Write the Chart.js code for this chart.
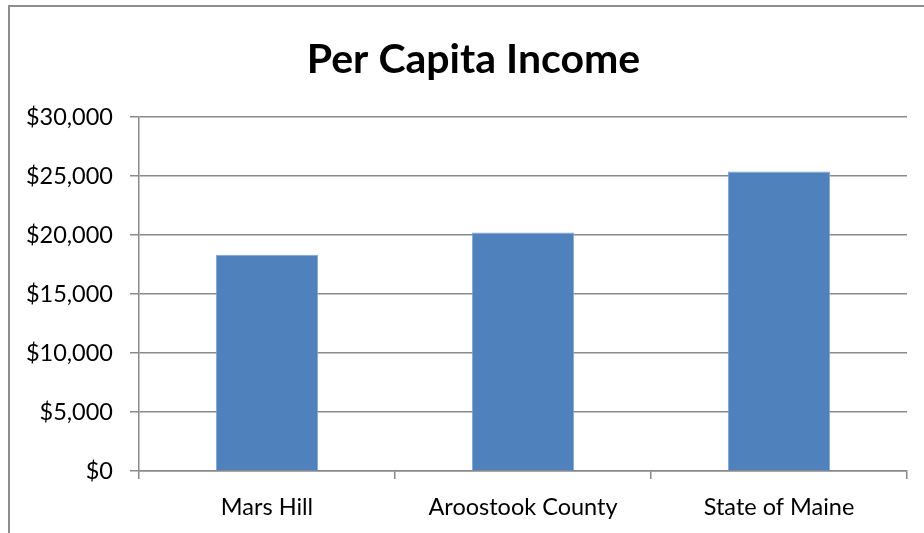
<!DOCTYPE html>
<html>
<head>
<meta charset="utf-8">
<script src="https://cdn.jsdelivr.net/npm/chart.js@4/dist/chart.umd.min.js"></script>
<style>
  html, body { margin: 0; padding: 0; background: #ffffff; overflow: hidden; }
  #wrap { position: relative; width: 924px; height: 533px; overflow: hidden; }
  #frame {
    position: absolute; left: 8px; top: 5px; width: 1000px; height: 600px;
    border: 2px solid #8e8e8e; box-sizing: border-box;
  }
  #c { position: absolute; left: 0; top: 0; }
</style>
</head>
<body>
<div id="wrap">
  <div id="frame"></div>
  <canvas id="c" width="924" height="533"></canvas>
</div>
<script>
// Per capita income by area
const categories = ["Mars Hill", "Aroostook County", "State of Maine"];
const incomeValues = [18330, 20230, 25400];
const yTicks = [0, 5000, 10000, 15000, 20000, 25000, 30000];

const axisGray = "#8a8a8a";
const fontFamily = "Lato, 'Open Sans', sans-serif";

// Centre the title on the framed chart box rather than the canvas
const titleCentering = {
  id: "titleCentering",
  afterLayout(chart) {
    if (chart.titleBlock) {
      chart.titleBlock.left = 40;
    }
  }
};

new Chart(document.getElementById("c"), {
  type: "bar",
  data: {
    labels: categories,
    datasets: [{
      label: "Per Capita Income",
      data: incomeValues,
      backgroundColor: "#4f81bd",
      borderColor: "#7fa3d1",
      borderWidth: 1,
      borderSkipped: "bottom",
      categoryPercentage: 1.0,
      barPercentage: 0.4
    }]
  },
  plugins: [titleCentering],
  options: {
    responsive: false,
    animation: false,
    events: [],
    layout: { padding: { left: 0, right: 17, top: 0, bottom: 0 } },
    plugins: {
      legend: { display: false },
      tooltip: { enabled: false },
      title: {
        display: true,
        text: "Per Capita Income",
        color: "#000000",
        font: { family: fontFamily, size: 41, weight: "bold" },
        padding: { top: 35, bottom: 33 }
      }
    },
    scales: {
      x: {
        afterFit: (scale) => { scale.height = 62; },
        grid: {
          offset: true,
          drawOnChartArea: false,
          drawTicks: true,
          tickLength: 8,
          color: axisGray,
          lineWidth: 1.5
        },
        border: { display: true, color: axisGray, width: 1.5 },
        ticks: {
          color: "#000000",
          font: { family: fontFamily, size: 23.5 },
          padding: 14,
          maxRotation: 0
        }
      },
      y: {
        min: 0,
        max: 30000,
        afterFit: (scale) => { scale.width = 139; },
        afterBuildTicks: (scale) => { scale.ticks = yTicks.map(v => ({ value: v })); },
        grid: {
          color: axisGray,
          lineWidth: 1.5,
          drawTicks: true,
          tickLength: 9
        },
        border: { display: true, color: axisGray, width: 1.5 },
        ticks: {
          color: "#000000",
          font: { family: fontFamily, size: 23.5 },
          padding: 17,
          callback: (v) => "$" + Number(v).toLocaleString("en-US")
        }
      }
    }
  }
});
</script>
</body>
</html>
